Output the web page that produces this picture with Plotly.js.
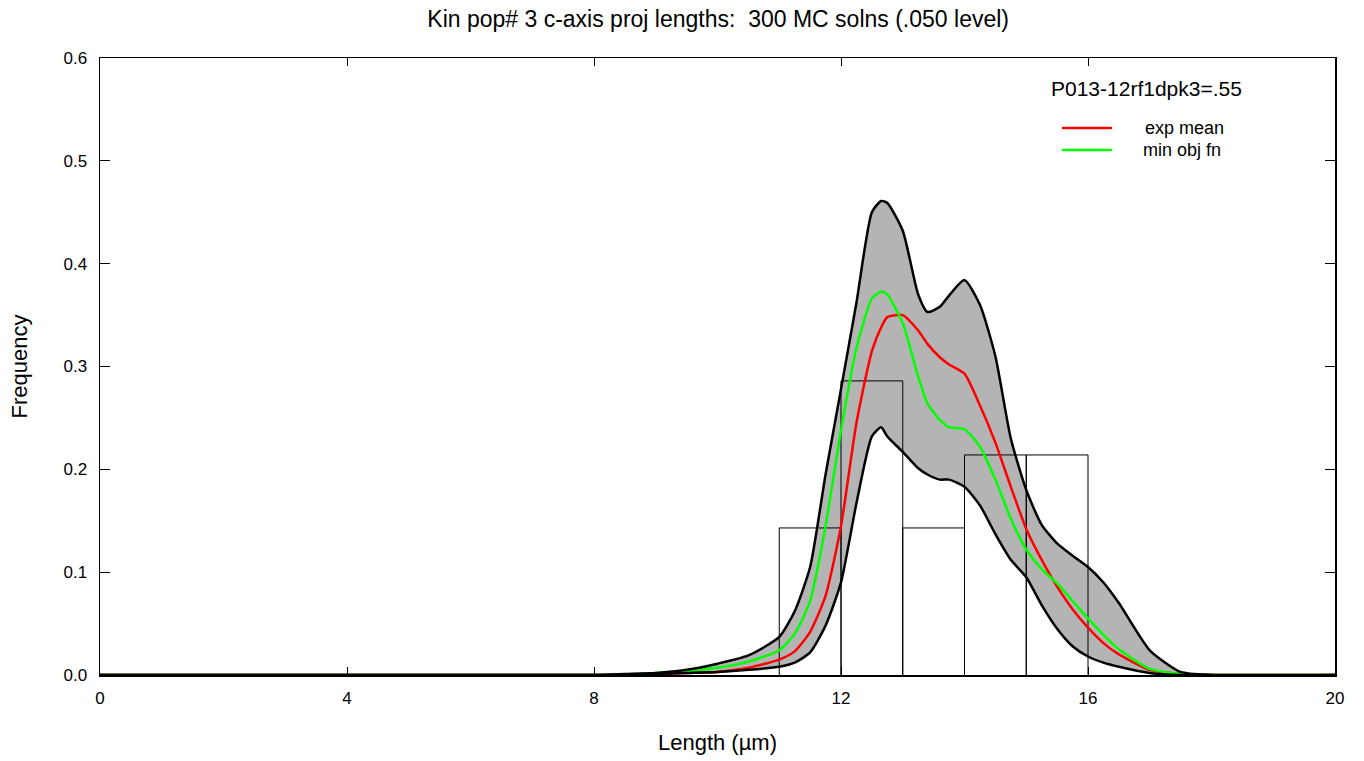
<!DOCTYPE html>
<html>
<head>
<meta charset="utf-8">
<script src="https://cdn.plot.ly/plotly-3.0.1.min.js"></script>
<style>html,body{margin:0;padding:0;background:#fff;}#chart{width:1364px;height:761px;}</style>
</head>
<body>
<div id="chart"></div>
<script>
// Length grid (µm) for the curves
const lengthX = [0, 8, 8.5, 9, 9.5, 10, 10.5, 11, 11.25, 11.5, 11.75, 12, 12.25, 12.5, 12.65, 12.75, 13, 13.25, 13.4, 13.6, 13.75, 14, 14.25, 14.5, 14.75, 15, 15.25, 15.5, 15.75, 16, 16.25, 16.5, 17, 17.5, 18, 20];
// Upper envelope of the 300 MC solutions
const upperEnv = [0, 0, 0.001, 0.002, 0.005, 0.011, 0.019, 0.037, 0.062, 0.105, 0.195, 0.278, 0.362, 0.45, 0.461, 0.459, 0.432, 0.37, 0.353, 0.358, 0.369, 0.384, 0.36, 0.31, 0.23, 0.18, 0.146, 0.128, 0.116, 0.105, 0.09, 0.07, 0.024, 0.003, 0, 0];
// Lower envelope of the 300 MC solutions
const lowerEnv = [0, 0, 0, 0.001, 0.002, 0.003, 0.005, 0.008, 0.012, 0.022, 0.048, 0.09, 0.167, 0.232, 0.241, 0.232, 0.217, 0.201, 0.195, 0.19, 0.19, 0.183, 0.165, 0.137, 0.112, 0.095, 0.068, 0.045, 0.028, 0.018, 0.012, 0.008, 0.002, 0, 0, 0];
// exp mean
const expMean = [0, 0, 0, 0.001, 0.002, 0.003, 0.007, 0.015, 0.023, 0.042, 0.077, 0.145, 0.245, 0.315, 0.338, 0.348, 0.35, 0.335, 0.322, 0.309, 0.302, 0.293, 0.262, 0.226, 0.183, 0.142, 0.112, 0.086, 0.064, 0.046, 0.031, 0.02, 0.005, 0.001, 0, 0];
// min obj fn
const minObjFn = [0, 0, 0, 0.002, 0.004, 0.007, 0.013, 0.024, 0.04, 0.072, 0.145, 0.238, 0.318, 0.366, 0.373, 0.37, 0.342, 0.29, 0.264, 0.248, 0.241, 0.239, 0.222, 0.19, 0.152, 0.122, 0.103, 0.089, 0.072, 0.055, 0.039, 0.025, 0.006, 0.001, 0, 0];
// Observed histogram
const binLeft = [11, 12, 13, 14, 15];
const binRight = [12, 13, 14, 15, 16];
const binFreq = [0.143, 0.286, 0.143, 0.214, 0.214];

const histX = [], histY = [];
for (let i = 0; i < binLeft.length; i++) {
  histX.push(binLeft[i], binLeft[i], binRight[i], binRight[i], null);
  histY.push(0, binFreq[i], binFreq[i], 0, null);
}

const sm = 0.6;
const traces = [
  {x: lengthX, y: lowerEnv, mode: 'lines', line: {width: 0, shape: 'spline', smoothing: sm}, hoverinfo: 'skip', showlegend: false},
  {x: lengthX, y: upperEnv, mode: 'lines', fill: 'tonexty', fillcolor: '#b4b4b4', line: {width: 0, shape: 'spline', smoothing: sm}, hoverinfo: 'skip', showlegend: false},
  {x: histX, y: histY, mode: 'lines', line: {color: '#000', width: 1}, showlegend: false, name: 'observed'},
  {x: lengthX, y: expMean, mode: 'lines', line: {color: '#ff0000', width: 2.5, shape: 'spline', smoothing: sm}, name: 'exp mean', showlegend: false},
  {x: lengthX, y: minObjFn, mode: 'lines', line: {color: '#00ff00', width: 2.5, shape: 'spline', smoothing: sm}, name: 'min obj fn', showlegend: false},
  {x: lengthX, y: upperEnv, mode: 'lines', line: {color: '#000', width: 2.5, shape: 'spline', smoothing: sm}, showlegend: false, name: 'upper'},
  {x: lengthX, y: lowerEnv, mode: 'lines', line: {color: '#000', width: 2.5, shape: 'spline', smoothing: sm}, showlegend: false, name: 'lower'}
];

const font = 'Liberation Sans, Arial, sans-serif';
const layout = {
  width: 1364, height: 761,
  margin: {l: 100, r: 29, t: 58, b: 86},
  paper_bgcolor: '#fff', plot_bgcolor: '#fff',
  font: {family: font, color: '#000', size: 17},
  title: {text: 'Kin pop# 3 c-axis proj lengths:  300 MC solns (.050 level)', font: {family: font, size: 23, color: '#000'}, x: 0.5265, xanchor: 'center', y: 0.975, yanchor: 'middle'},
  xaxis: {range: [0, 20], tickvals: [0, 4, 8, 12, 16, 20], ticktext: ['0', '4', '8', '12', '16', '20'], ticks: 'inside', ticklen: 8, tickcolor: '#000', showline: true, linecolor: '#000', linewidth: 1.5, mirror: 'ticks', showgrid: false, zeroline: false, tickfont: {size: 17}, ticklabelstandoff: 7, title: {text: 'Length (µm)', font: {size: 22}, standoff: 27}},
  yaxis: {range: [0, 0.6], tickvals: [0, 0.1, 0.2, 0.3, 0.4, 0.5, 0.6], ticktext: ['0.0', '0.1', '0.2', '0.3', '0.4', '0.5', '0.6'], ticks: 'inside', ticklen: 10, tickcolor: '#000', showline: true, linecolor: '#000', linewidth: 1.5, mirror: 'ticks', showgrid: false, zeroline: false, tickfont: {size: 17}, ticklabelstandoff: 8, title: {text: 'Frequency', font: {size: 22}, standoff: 30}},
  shapes: [
    {type: 'line', xref: 'paper', yref: 'paper', x0: 0.779, x1: 0.8194, y0: 0.8865, y1: 0.8865, line: {color: '#ff0000', width: 2.5}},
    {type: 'line', xref: 'paper', yref: 'paper', x0: 0.779, x1: 0.8194, y0: 0.8509, y1: 0.8509, line: {color: '#00ff00', width: 2.5}}
  ],
  annotations: [
    {text: 'P013-12rf1dpk3=.55', xref: 'paper', yref: 'paper', x: 0.847, y: 0.951, xanchor: 'center', yanchor: 'middle', showarrow: false, font: {size: 21}},
    {text: 'exp mean', xref: 'paper', yref: 'paper', x: 0.8785, y: 0.8865, xanchor: 'center', yanchor: 'middle', showarrow: false, font: {size: 18}},
    {text: 'min obj fn', xref: 'paper', yref: 'paper', x: 0.8765, y: 0.8509, xanchor: 'center', yanchor: 'middle', showarrow: false, font: {size: 18}}
  ]
};

Plotly.newPlot('chart', traces, layout, {displayModeBar: false, staticPlot: true});
</script>
</body>
</html>
